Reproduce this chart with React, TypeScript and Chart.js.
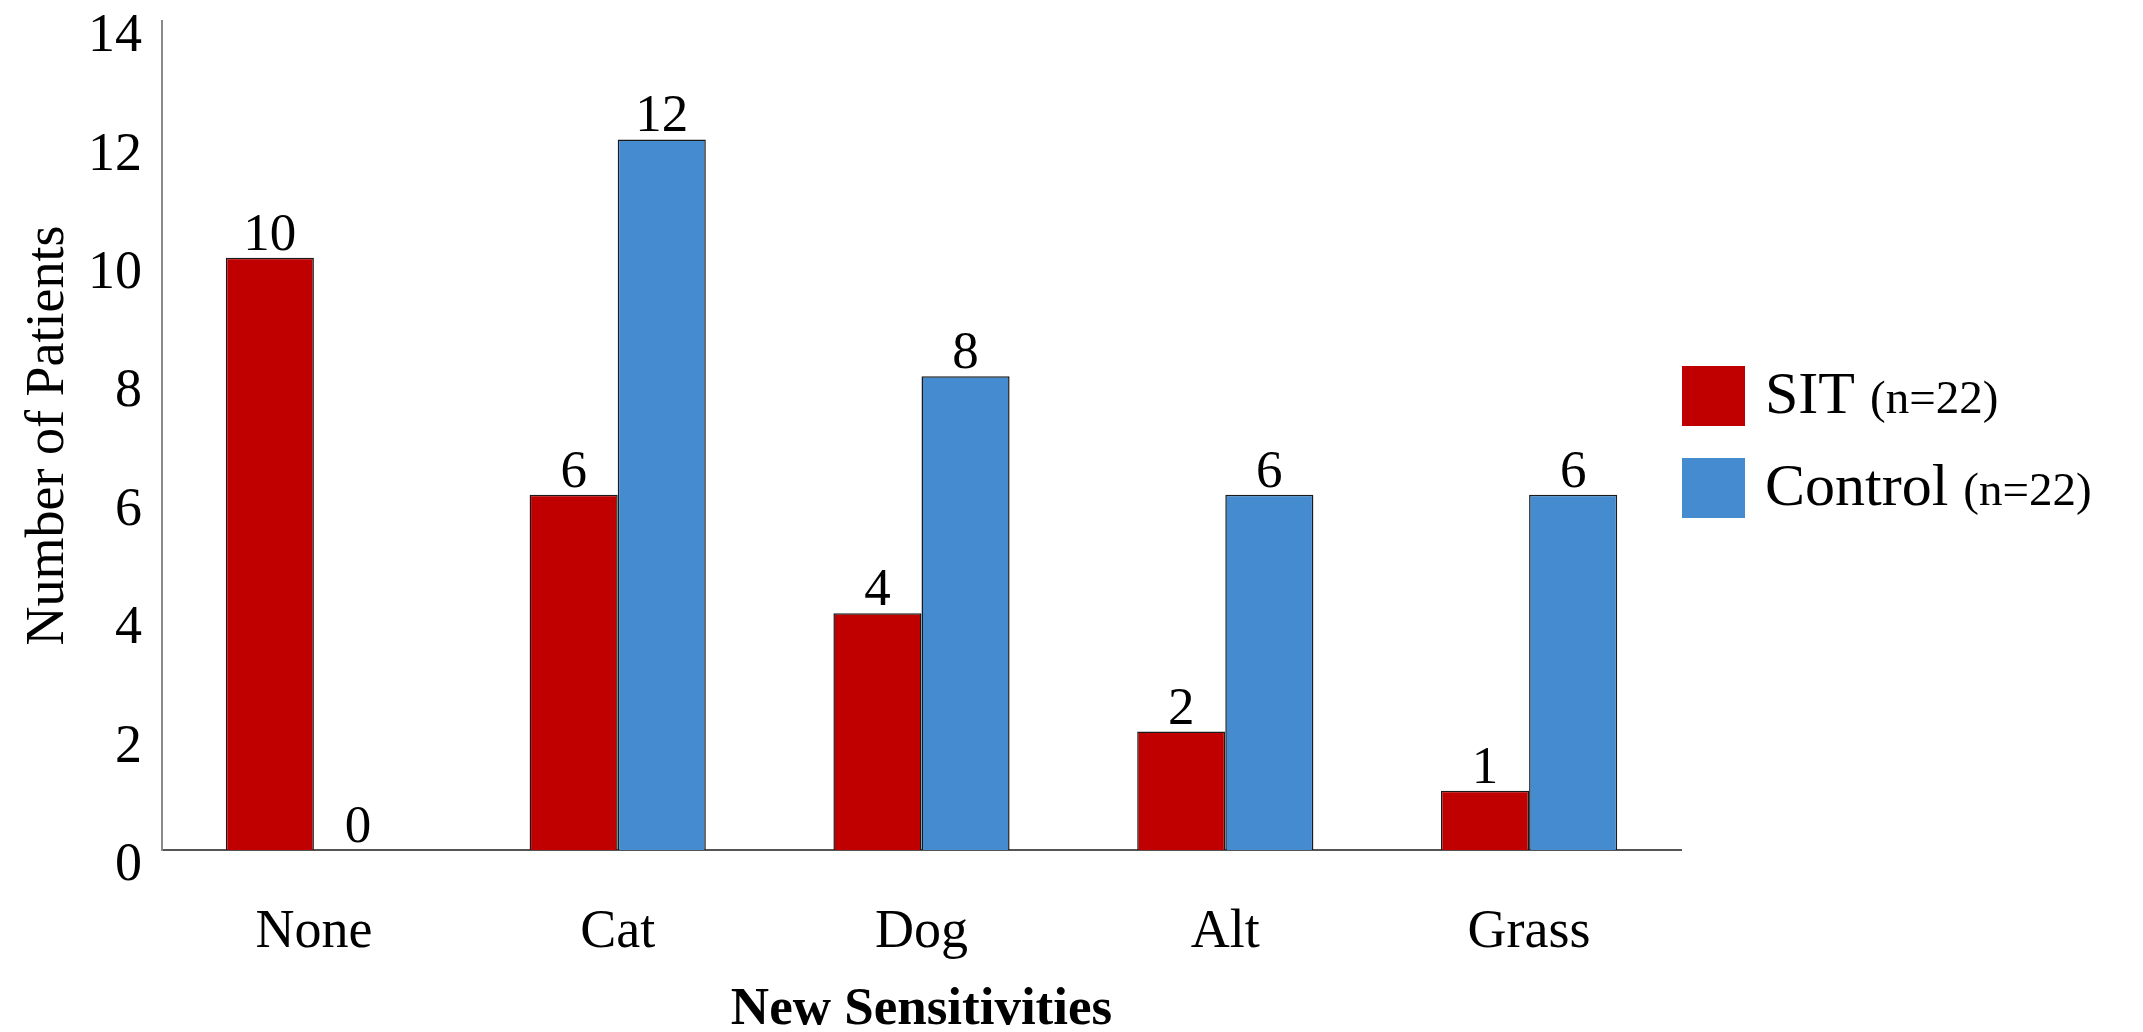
import React, { useEffect, useRef } from "react";
import { Chart, registerables } from "chart.js";

Chart.register(...registerables);

// Allergen categories and patient counts per group
const categories = ["None", "Cat", "Dog", "Alt", "Grass"];
const sitCounts = [10, 6, 4, 2, 1];
const controlCounts = [0, 12, 8, 6, 6];
const seriesNames = ["SIT", "Control"];
const seriesNotes = ["(n=22)", "(n=22)"];
const yTicks = [0, 2, 4, 6, 8, 10, 12, 14];

const RED = "#C00000";
const BLUE = "#448BCF";
const SERIF = "'Liberation Serif', 'Times New Roman', serif";

const W = 2143;
const H = 1032;

// Writes each bar's value just above its top edge
const valueLabels = {
  id: "valueLabels",
  afterDatasetsDraw(chart: any) {
    const ctx = chart.ctx;
    ctx.save();
    ctx.font = `53px ${SERIF}`;
    ctx.fillStyle = "#000";
    ctx.textAlign = "center";
    ctx.textBaseline = "alphabetic";
    chart.data.datasets.forEach((ds: any, di: number) => {
      const meta = chart.getDatasetMeta(di);
      meta.data.forEach((bar: any, i: number) => {
        ctx.fillText(String(ds.data[i]), bar.x, bar.y - 8);
      });
    });
    ctx.restore();
  },
};

// Legend with a large series name followed by a smaller group size
const sideLegend = {
  id: "sideLegend",
  afterDraw(chart: any) {
    const ctx = chart.ctx;
    const area = chart.chartArea;
    const boxX = area.right + 1;
    const boxW = 63;
    const boxH = 60;
    const tops = [366, 458];
    ctx.save();
    chart.data.datasets.forEach((ds: any, i: number) => {
      const top = tops[i];
      ctx.fillStyle = ds.backgroundColor;
      ctx.fillRect(boxX, top, boxW, boxH);
      const baseline = top + boxH / 2 + 17;
      let x = boxX + boxW + 20;
      ctx.fillStyle = "#000";
      ctx.textAlign = "left";
      ctx.textBaseline = "alphabetic";
      ctx.font = `60px ${SERIF}`;
      ctx.fillText(seriesNames[i], x, baseline);
      x += ctx.measureText(seriesNames[i] + " ").width;
      ctx.font = `47px ${SERIF}`;
      ctx.fillText(seriesNotes[i], x, baseline);
    });
    ctx.restore();
  },
};

export default function App() {
  const canvasRef = useRef<HTMLCanvasElement | null>(null);

  useEffect(() => {
    const canvas = canvasRef.current;
    if (!canvas) return;
    const chart = new Chart(canvas, {
      type: "bar",
      data: {
        labels: categories,
        datasets: [
          {
            label: seriesNames[0],
            data: sitCounts,
            backgroundColor: RED,
            borderColor: "#1a1a1a",
            borderWidth: 1.5,
            categoryPercentage: 0.58,
            barPercentage: 1.0,
          },
          {
            label: seriesNames[1],
            data: controlCounts,
            backgroundColor: BLUE,
            borderColor: "#1a1a1a",
            borderWidth: 1.5,
            categoryPercentage: 0.58,
            barPercentage: 1.0,
          },
        ],
      },
      options: {
        responsive: false,
        animation: false,
        devicePixelRatio: 1,
        layout: { padding: { top: 21, right: 462, bottom: 0, left: 0 } },
        plugins: {
          legend: { display: false },
          tooltip: { enabled: false },
        },
        scales: {
          x: {
            grid: { display: false, drawTicks: false },
            border: { display: true, color: "#555", width: 2 },
            ticks: {
              color: "#000",
              font: { family: SERIF, size: 54 },
              padding: 50,
            },
            title: {
              display: true,
              text: "New Sensitivities",
              color: "#000",
              font: { family: SERIF, size: 53, weight: "bold", lineHeight: 0.8 },
              padding: { top: 0, bottom: 0 },
            },
            afterFit(scale: any) {
              scale.height = 182;
              scale.paddingLeft = 0;
              scale.paddingRight = 0;
            },
          },
          y: {
            min: 0,
            max: 14,
            afterBuildTicks(scale: any) {
              scale.ticks = yTicks.map((v) => ({ value: v }));
            },
            grid: { display: false, drawTicks: false },
            border: { display: true, color: "#8a8a8a", width: 2 },
            ticks: {
              color: "#000",
              font: { family: SERIF, size: 54 },
              padding: 20,
              labelOffset: 16,
            },
            title: {
              display: true,
              text: "Number of Patients",
              color: "#000",
              font: { family: SERIF, size: 54, lineHeight: 1.0 },
              padding: { top: 22, bottom: 0 },
            },
            afterFit(scale: any) {
              scale.width = 162;
              scale.paddingTop = 0;
              scale.paddingBottom = 0;
            },
          },
        },
      },
      plugins: [valueLabels, sideLegend],
    });
    return () => chart.destroy();
  }, []);

  return (
    <div style={{ position: "fixed", left: 0, top: 0, width: W, height: H, background: "#fff" }}>
      <canvas ref={canvasRef} width={W} height={H} style={{ display: "block", width: W, height: H }} />
    </div>
  );
}
